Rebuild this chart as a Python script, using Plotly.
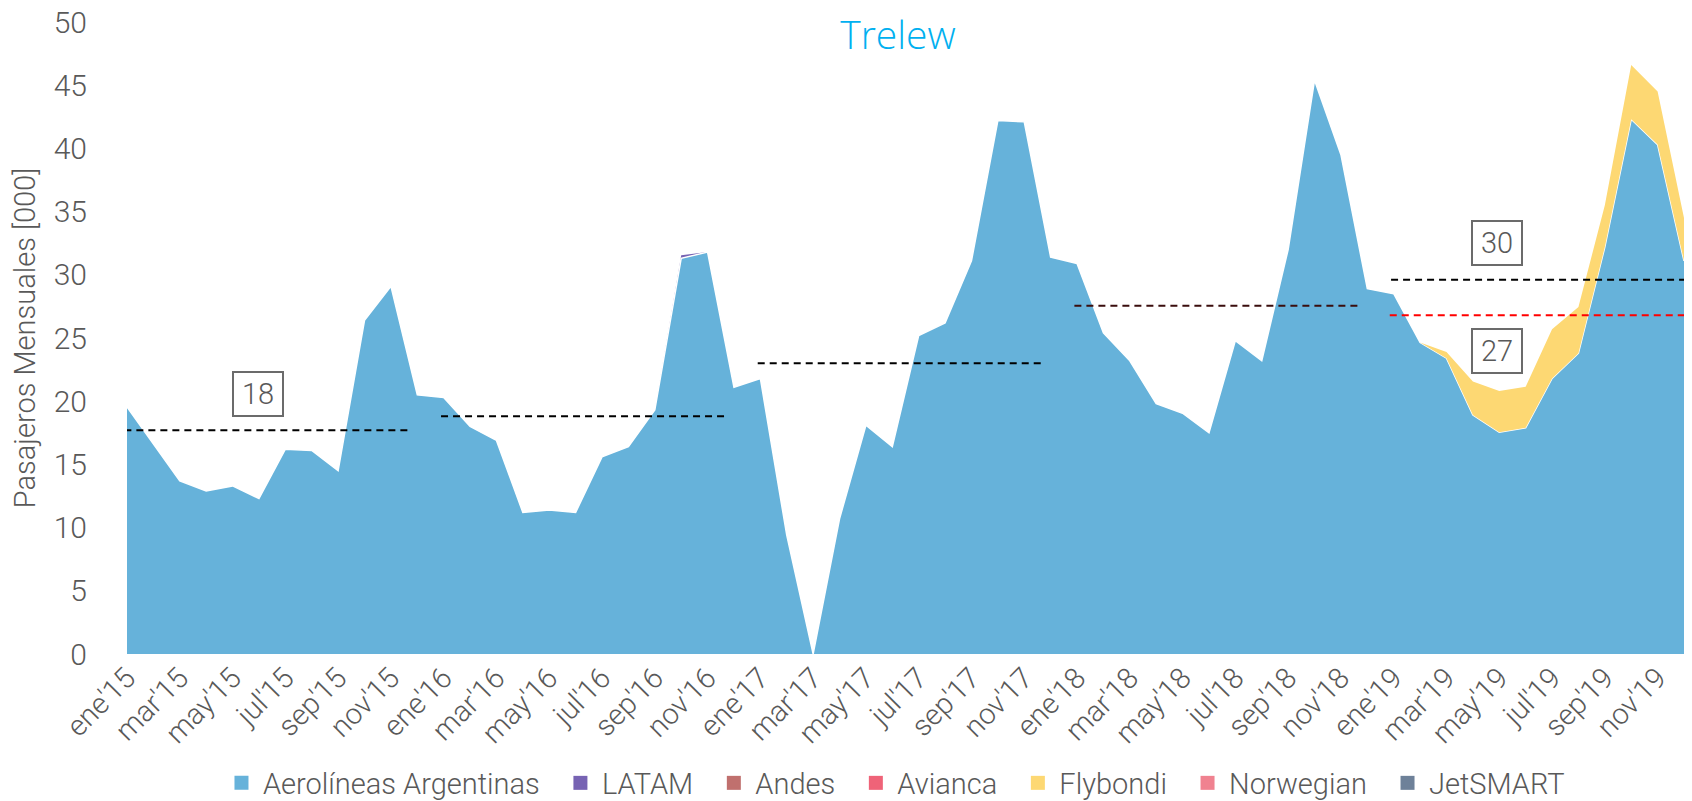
import plotly.graph_objects as go

# meses ene'15 .. dic'19
meses = ["ene", "feb", "mar", "abr", "may", "jun", "jul", "ago", "sep", "oct", "nov", "dic"]
anios = ["15", "16", "17", "18", "19"]
etiquetas = [f"{m}'{a}" for a in anios for m in meses]
x = list(range(len(etiquetas)))

# pasajeros mensuales [000]
aerolineas = [
    19.55, 16.6, 13.7, 12.9, 13.3, 12.3, 16.2, 16.1, 14.5, 26.4, 29.1, 20.5,
    20.3, 18.0, 16.9, 11.2, 11.4, 11.2, 15.6, 16.4, 19.3, 31.3, 31.8, 21.1,
    21.8, 9.4, 0.0, 10.7, 18.1, 16.4, 25.2, 26.2, 31.1, 42.2, 42.1, 31.4,
    30.9, 25.4, 23.2, 19.8, 19.05, 17.5, 24.8, 23.2, 32.0, 45.4, 39.5, 28.9,
    28.5, 24.65, 23.4, 18.9, 17.55, 17.9, 21.8, 23.8, 32.2, 42.3, 40.3, 31.1,
]
latam = [0.0] * 21 + [0.25] + [0.0] * 38
flybondi = [0.0] * 50 + [0.5, 2.65, 3.25, 3.25, 3.9, 3.65, 3.3, 4.3, 4.2, 3.4]

# promedios anuales
prom_anual = [17.7, 18.8, 23.0, 27.55, 29.6]
prom_colores = ["black", "black", "black", "#3a0d0d", "black"]
prom_aero_2019 = 26.8
etiquetas_prom = [("18", 4.96, 20.55), ("30", 51.9, 32.5), ("27", 51.9, 24.0)]

legend_items = [
    ("Aerolíneas Argentinas", "#66B2DA"),
    ("LATAM", "#7763B3"),
    ("Andes", "#C0706E"),
    ("Avianca", "#EF6378"),
    ("Flybondi", "#FDD873"),
    ("Norwegian", "#F08290"),
    ("JetSMART", "#6E8199"),
]

fig = go.Figure()

fig.add_trace(go.Scatter(x=x, y=aerolineas, stackgroup="a", mode="lines",
                         line=dict(color="white", width=1.5), fillcolor="#66B2DA",
                         showlegend=False))
fig.add_trace(go.Scatter(x=x, y=latam, stackgroup="a", mode="lines",
                         line=dict(width=0), fillcolor="#7763B3", showlegend=False))
fig.add_trace(go.Scatter(x=x, y=flybondi, stackgroup="a", mode="lines",
                         line=dict(width=0), fillcolor="#FDD873", showlegend=False))

# legend entries (square swatches like the original)
for name, col in legend_items:
    fig.add_trace(go.Scatter(x=[None], y=[None], mode="markers", name=name + "\u00a0\u00a0",
                             marker=dict(symbol="square", size=14, color=col)))

# average lines
for i, v in enumerate(prom_anual):
    x0 = 12 * i - 0.1
    x1 = 12 * i + 10.75 if i < 4 else 59
    fig.add_shape(type="line", x0=x0, x1=x1, y0=v, y1=v, xref="x", yref="y",
                  line=dict(color=prom_colores[i], width=2, dash="7px,5px"))
fig.add_shape(type="line", x0=47.85, x1=59, y0=prom_aero_2019, y1=prom_aero_2019,
              xref="x", yref="y", line=dict(color="#FF0000", width=2, dash="7px,5px"))

for txt, xv, yv in etiquetas_prom:
    fig.add_annotation(x=xv, y=yv, text=txt, showarrow=False,
                       font=dict(family="Roboto", size=29, color="#595959"),
                       bordercolor="#6b6b6b", borderwidth=2, borderpad=2,
                       width=44, height=38, bgcolor="white")

# page body has an 8px margin on each side, so the figure is 16px narrower than the window
fig.update_layout(
    width=1676, height=793,
    margin=dict(l=119, r=0, t=14, b=147),
    paper_bgcolor="white", plot_bgcolor="white",
    title=dict(text="Trelew", x=0.531, xref="container", y=0.9652, yref="container",
               xanchor="center", yanchor="middle",
               font=dict(family="Open Sans", size=39, color="#00B0F0")),
    font=dict(family="Roboto", color="#595959", weight=300),
    # legend placed in container coords so it does not push the bottom margin
    legend=dict(orientation="h", x=0.5334, xref="container", xanchor="center",
                y=0.0227, yref="container", yanchor="middle",
                traceorder="normal",
                font=dict(family="Roboto", size=29, color="#595959", weight=300),
                itemwidth=33, tracegroupgap=0),
    showlegend=True,
)

fig.update_xaxes(range=[0, 59], tickmode="array", tickvals=x[::2],
                 ticktext=etiquetas[::2], tickangle=-45, showgrid=False,
                 zeroline=False, showline=False, ticks="", automargin=False,
                 tickfont=dict(family="Roboto", size=29, color="#595959", weight=300))
fig.update_yaxes(range=[0, 50], dtick=5, showgrid=False, zeroline=False,
                 showline=False, ticks="", ticklabelstandoff=39, automargin=False,
                 ticklabeloverflow="allow",
                 tickfont=dict(family="Roboto", size=30, color="#595959", weight=300),
                 title=dict(text="Pasajeros Mensuales [000]", standoff=10,
                            font=dict(family="Roboto", size=29, color="#595959")))

fig.write_html("out.html")
